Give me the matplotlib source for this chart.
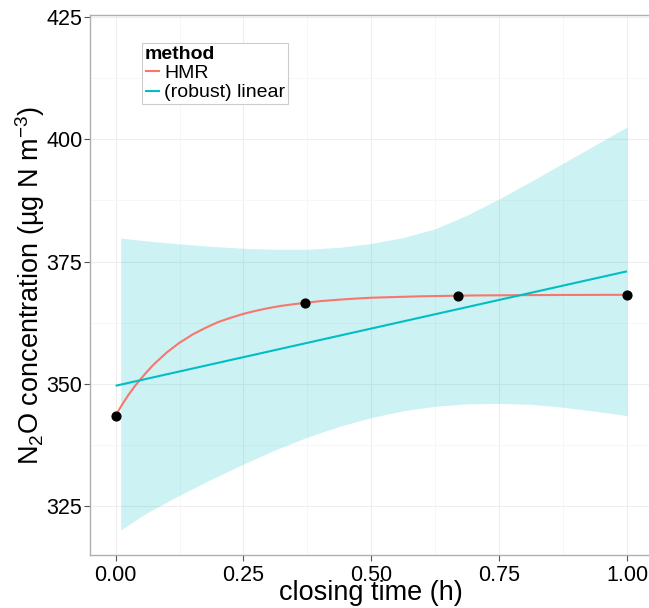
import matplotlib
matplotlib.use("Agg")
import matplotlib.pyplot as plt
from matplotlib.ticker import MultipleLocator

plt.rcParams["font.family"] = ["Liberation Sans", "DejaVu Sans"]
plt.rcParams["mathtext.fontset"] = "custom"
plt.rcParams["mathtext.rm"] = "Liberation Sans"
plt.rcParams["mathtext.it"] = "Liberation Sans:italic"

# measured concentrations
t_obs = [0.0, 0.37, 0.67, 1.0]
c_obs = [343.5, 366.5, 368.0, 368.2]

# HMR fit
t_hmr = [0.0, 0.0125, 0.025, 0.0375, 0.05, 0.0625, 0.075, 0.0875, 0.1, 0.1125,
         0.125, 0.1375, 0.15, 0.175, 0.2, 0.225, 0.25, 0.275, 0.3, 0.325,
         0.35, 0.4, 0.45, 0.5, 0.6, 0.7, 0.8, 0.9, 1.0]
c_hmr = [343.5, 345.7, 347.7, 349.5, 351.1, 352.6, 354.0, 355.2, 356.4, 357.4,
         358.4, 359.2, 360.05, 361.4, 362.6, 363.5, 364.3, 364.95, 365.5, 365.95,
         366.3, 366.9, 367.3, 367.6, 367.9, 368.06, 368.13, 368.17, 368.2]

# robust linear fit
t_lin = [0.0, 1.0]
c_lin = [349.6, 373.0]

# confidence band of the linear fit
t_band = [0.01, 0.0625, 0.125, 0.1875, 0.25, 0.3125, 0.375, 0.4375, 0.5,
          0.5625, 0.625, 0.6875, 0.75, 0.8125, 0.875, 0.9375, 1.0]
band_hi = [379.8, 379.2, 378.6, 378.1, 377.7, 377.5, 377.5, 377.9, 378.7,
           379.9, 381.7, 384.5, 387.8, 391.4, 395.1, 398.8, 402.5]
band_lo = [320.1, 323.7, 327.2, 330.5, 333.6, 336.5, 339.1, 341.3, 343.1,
           344.5, 345.4, 345.9, 346.0, 345.8, 345.2, 344.4, 343.5]

red = "#F8766D"
teal = "#00BFC4"

fig = plt.figure(figsize=(6.49, 6.08), dpi=100)
ax = fig.add_axes([90 / 649, 1 - 555 / 608, (652.6 - 90) / 649, (555 - 15) / 608])

ax.fill_between(t_band, band_lo, band_hi, color=teal, alpha=0.2, linewidth=0)
ax.plot(t_hmr, c_hmr, color=red, lw=1.5, label="HMR", solid_capstyle="butt")
ax.plot(t_lin, c_lin, color=teal, lw=1.5, label="(robust) linear", solid_capstyle="butt")
ax.scatter(t_obs, c_obs, color="black", s=40, zorder=5)

ax.set_xlim(-0.05, 1.05)
ax.set_ylim(315.0, 425.4)
ax.xaxis.set_major_locator(MultipleLocator(0.25))
ax.xaxis.set_minor_locator(MultipleLocator(0.125))
ax.yaxis.set_major_locator(MultipleLocator(25))
ax.yaxis.set_minor_locator(MultipleLocator(12.5))
ax.xaxis.set_major_formatter(plt.FuncFormatter(lambda v, p: f"{v:.2f}"))
ax.yaxis.set_major_formatter(plt.FuncFormatter(lambda v, p: f"{v:.0f}"))

ax.grid(which="major", color="#EEEEEE", lw=0.8)
ax.grid(which="minor", color="#F6F6F6", lw=0.6)
ax.set_axisbelow(True)
ax.tick_params(which="minor", length=0)
ax.tick_params(which="major", length=4, width=0.8, color="#555555",
               labelsize=15.5, labelcolor="black")
ax.tick_params(axis="x", pad=3.5)
ax.tick_params(axis="y", pad=1.5)
for s in ax.spines.values():
    s.set_color("#B0B0B0")
    s.set_linewidth(1.0)

ax.set_xlabel("closing time (h)", fontsize=19.5)
ax.set_ylabel("N$_2$O concentration (µg N m$^{-3}$)", fontsize=19.5)
ax.xaxis.set_label_coords(0.5, -0.046)
ax.yaxis.set_label_coords(-0.077, 0.5)

leg = ax.legend(title="method", loc="upper left", bbox_to_anchor=(0.092, 0.948),
                borderaxespad=0, fontsize=14, title_fontsize=14,
                handlelength=0.8, handletextpad=0.2, labelspacing=0.08,
                borderpad=0.15, fancybox=False, framealpha=1,
                edgecolor="#CCCCCC", alignment="left")
leg.get_title().set_fontweight("bold")
leg.get_frame().set_linewidth(0.8)

fig.savefig("out.png", dpi=100)
